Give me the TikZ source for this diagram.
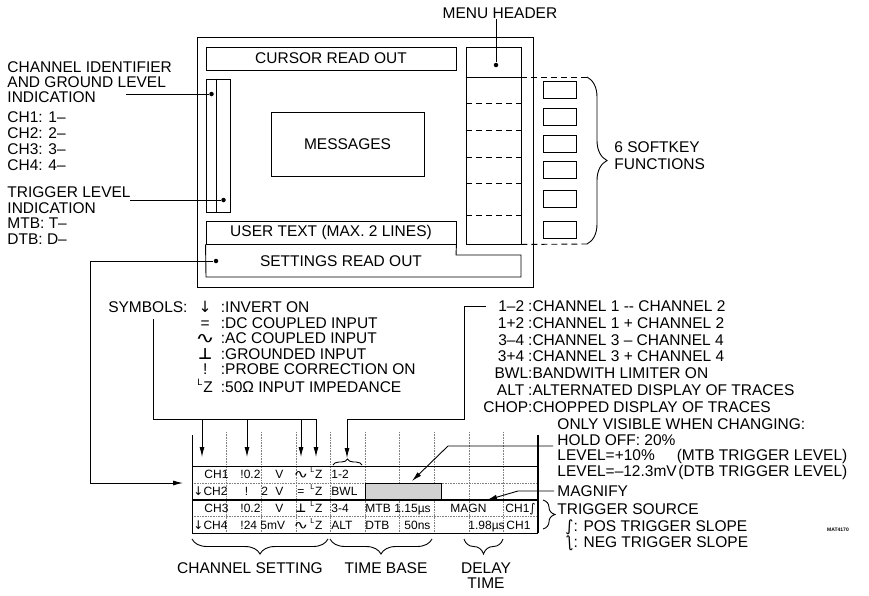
\documentclass[tikz,border=0pt]{standalone}
\usepackage{fontspec}
\setmainfont{Liberation Sans}
\newfontfamily\symfont{DejaVu Sans}
\usepackage{graphicx}
\usetikzlibrary{arrows.meta,positioning,calc,decorations.pathreplacing}

\newcommand{\invsym}{{\symfont ↓}}
\newcommand{\acsym}{\scalebox{1.5}[1]{\symfont ∿}}
\newcommand{\gndsym}{{\symfont\bfseries ⊥}}
\newcommand{\lzsym}{\raisebox{.45em}{\scalebox{.6}{L}}\kern.05em Z}
\newcommand{\possl}{{\symfont ∫}}
\newcommand{\negsl}{\reflectbox{\symfont ∫}}

\begin{document}
\begin{tikzpicture}[
    x=1pt, y=-1pt,
    line width=0.9pt,
    txt/.style={inner sep=0pt, font=\fontsize{15.5}{16}\selectfont},
    box/.style={draw, inner sep=0pt, font=\fontsize{15.5}{16}\selectfont},
    cell/.style={inner sep=0pt, anchor=base west, font=\fontsize{12}{12}\selectfont},
    dot/.style={circle, fill, inner sep=0pt, minimum size=4.5pt},
    arr/.style={-{Latex[length=10pt,width=5pt]}},
    dsh/.style={dash pattern=on 6pt off 4pt},
    grid/.style={densely dotted, line width=0.6pt, gray},
    brc/.style={decorate, decoration={brace, amplitude=#1}}
]
\useasboundingbox (0,0) rectangle (869,595);

% screen layout
\node[box, minimum width=336pt, minimum height=250pt] (screen) at (365,162) {};
\node[box, minimum width=250pt, minimum height=23pt] (cursor) at (331,58.5) {CURSOR READ OUT};
\node[box, minimum width=24pt, minimum height=133pt] (strip) at (218,145.5) {};
\draw (strip.north west) ++(11,0) -- ++(0,133);
\node[box, minimum width=153pt, minimum height=64pt] (msg) at (347.5,144) {MESSAGES};
\node[box, minimum width=55pt, minimum height=197pt] (menu) at (493.5,145.5) {};
\node[box, minimum width=250pt, minimum height=23pt] (user) at (331,232.5) {USER TEXT (MAX. 2 LINES)};
\draw (user.south west) -- (206,277) -- (521,277) -- (521,255) -- (456,255) -- (user.south east);
\node[txt] (setlbl) at (341,261) {SETTINGS READ OUT};

% menu column and softkeys
\coordinate (hdrline) at (466,77);
\coordinate (brtop) at (587,77);
\coordinate (brbot) at (587,244);
\draw (hdrline) -- (hdrline -| menu.east);
\draw[dsh] (hdrline -| menu.east) -- (brtop);
\draw[dsh] (menu.south east) -- (brbot);
\foreach \y in {103,130,157,183,215} \draw[dsh] (466,\y) -- (521,\y);
\foreach \yk [count=\k] in {90,116.5,143.5,170,199,229.5}
  \node[box, minimum width=33pt, minimum height=17pt] (key\k) at (559.5,\yk) {};
\draw[brc=20pt] (brtop) -- (brbot);
\node[txt, align=left, anchor=north west, font=\fontsize{15.5}{16.5}\selectfont] (sklbl) at (614,141.5) {6 SOFTKEY\\FUNCTIONS};

% dots and leaders of the screen
\node[dot] (chdot) at (211.5,94) {};
\node[dot] (trdot) at (223.5,200) {};
\node[dot] (menudot) at (496,65) {};
\node[dot] (setdot) at (216,261) {};

\node[txt] (menuhdr) at (500,13) {MENU HEADER};
\draw (menuhdr.south -| menudot) -- (menudot);

\node[txt, align=left, anchor=north west, font=\fontsize{15.5}{15}\selectfont] (chanid) at (7,61.5) {CHANNEL IDENTIFIER\\AND GROUND LEVEL\\INDICATION};
\node[txt, align=left, anchor=north west, font=\fontsize{15.5}{16}\selectfont] (chlist) at (7,111.5) {CH1: 1--\\CH2: 2--\\CH3: 3--\\CH4: 4--};
\node[txt, align=left, anchor=north west, font=\fontsize{15.5}{15.5}\selectfont] (trigid) at (7,186.5) {TRIGGER LEVEL\\INDICATION\\MTB: T--\\DTB: D--};
\coordinate (chlead) at (126,94);
\coordinate (trlead) at (130,200);
\draw (chlead) -- (chdot);
\draw (trlead) -- (trdot);

\coordinate (setbend) at (90,261);
\coordinate (setin) at (183,483);
\draw[arr] (setdot) -- (setbend) |- (setin);

% symbols
\node[txt, anchor=base east] (symhead) at (188,312.5) {SYMBOLS:};
\node[txt, anchor=base west, font=\fontsize{15.5}{15.5}\selectfont] (symlist) at (195,312.5) {\begin{tabular}[t]{@{}c@{\hspace{6pt}}l@{}}
\invsym & :INVERT ON\\
= & :DC COUPLED INPUT\\
\acsym & :AC COUPLED INPUT\\
\gndsym & :GROUNDED INPUT\\
! & :PROBE CORRECTION ON\\
\lzsym & :50Ω INPUT IMPEDANCE
\end{tabular}};
\coordinate (symtop) at (153,319);
\coordinate (symbus) at (316,419);
\coordinate (s1) at (202,457);
\coordinate (s2) at (247,457);
\coordinate (s3) at (301,457);
\coordinate (s4) at (316,457);
\draw (symtop) |- (symbus);
\draw[arr] (s1 |- symbus) -- (s1);
\draw[arr] (s2 |- symbus) -- (s2);
\draw[arr] (s3 |- symbus) -- (s3);
\draw[arr] (symbus) -- (s4);

% channel modes
\node[txt, anchor=base west, font=\fontsize{15.5}{16.8}\selectfont] (modelist) at (483,311.5) {\begin{tabular}[t]{@{}r@{}l@{}}
1--2\kern4pt & :CHANNEL 1 -{}- CHANNEL 2\\
1+2\kern4pt & :CHANNEL 1 + CHANNEL 2\\
3--4\kern4pt & :CHANNEL 3 -- CHANNEL 4\\
3+4\kern4pt & :CHANNEL 3 + CHANNEL 4\\
BWL & :BANDWITH LIMITER ON\\
ALT\kern4pt & :ALTERNATED DISPLAY OF TRACES\\
CHOP & :CHOPPED DISPLAY OF TRACES
\end{tabular}};
\coordinate (mlstart) at (486,306);
\coordinate (mlcorner) at (464,306);
\coordinate (m1) at (347,458);
\draw[arr] (mlstart) -- (mlcorner) |- (m1 |- symbus) -- (m1);

% hold off, magnify, trigger
\node[txt, anchor=base west, font=\fontsize{15.5}{15.5}\selectfont] (holdlist) at (557,429.5) {\begin{tabular}[t]{@{}l@{}r@{}}
\multicolumn{2}{@{}l@{}}{ONLY VISIBLE WHEN CHANGING:}\\
\multicolumn{2}{@{}l@{}}{HOLD OFF: 20\%}\\
LEVEL=+10\% & (MTB TRIGGER LEVEL)\\
LEVEL=--12.3mV & (DTB TRIGGER LEVEL)
\end{tabular}};
\coordinate (hostart) at (553,446);
\coordinate (hobend) at (448,446);
\coordinate (hotip) at (412,481);

\node[txt, anchor=west] (magn) at (557,491) {MAGNIFY};
\coordinate (mgbend) at (518,491);
\coordinate (mgtip) at (487,500);

\node[txt, anchor=base west, font=\fontsize{15.5}{16}\selectfont] (tsrc) at (557,514.5) {\begin{tabular}[t]{@{}l@{}}
TRIGGER SOURCE\\
\hspace*{8pt}\possl: POS TRIGGER SLOPE\\
\hspace*{8pt}\negsl: NEG TRIGGER SLOPE
\end{tabular}};
\coordinate (tsrctop) at (543,500);
\coordinate (tsrcbot) at (543,529);
\draw[brc=12pt] (tsrctop) -- (tsrcbot);

\node[inner sep=0pt, font=\fontsize{5}{5}\selectfont\bfseries] (matno) at (838,530) {MAT4170};

% settings read out line
\foreach \k in {1,...,9} \draw[grid] ({192+34.6*\k},432) -- ({192+34.6*\k},533);
\draw[grid] (192,483) -- (538,483);
\draw[grid] (192,516) -- (538,516);
\node[draw, line width=0.6pt, fill=gray!35, inner sep=0pt, minimum width=76pt, minimum height=16pt] (holdbar) at (403,491) {};
\draw (192,435) -- (192,533) -- (538,533);
\draw[line width=1.6pt] (538,435) -- (538,533);
\draw (192,466) -- (538,466);
\draw[line width=1.3pt] (192,500) -- (538,500);

\foreach \x/\lbl [count=\i] in {204/CH1, 240/!0.2, 275/V, 293/\acsym, 310/\lzsym, 331/1-2}
  \node[cell] (ra\i) at (\x,478.3) {\lbl};
\foreach \x/\lbl [count=\i] in {193/\invsym CH2, 244.5/!, 261/2, 275/V, 297/=, 310/\lzsym, 331/BWL}
  \node[cell] (rb\i) at (\x,495.3) {\lbl};
\foreach \x/\lbl [count=\i] in {204/CH3, 240/!0.2, 275/V, 295/\gndsym, 310/\lzsym, 331/3-4, 365/MTB, 394/1.15µs, 450/MAGN, 505/CH1\possl}
  \node[cell] (rc\i) at (\x,512.3) {\lbl};
\foreach \x/\lbl [count=\i] in {193/\invsym CH4, 240/!24, 260/5mV, 293/\acsym, 310/\lzsym, 331/ALT, 365/DTB, 404/50ns, 468/1.98µs, 506/CH1}
  \node[cell] (rd\i) at (\x,529.3) {\lbl};

\coordinate (b12l) at (333,465);
\coordinate (b12r) at (362,465);
\draw[brc=6pt] (b12l) -- (b12r);

\draw[arr] (hostart) -- (hobend) -- (hotip);
\draw[arr] ([xshift=-3pt]magn.west) -- (mgbend) -- (mgtip);

% groups below
\coordinate (csr) at (328,539);
\coordinate (csl) at (192,539);
\coordinate (tbr) at (432,539);
\coordinate (tbl) at (330,539);
\coordinate (dtr) at (503,539);
\coordinate (dtl) at (464,539);
\draw[brc=15pt] (csr) -- (csl);
\draw[brc=15pt] (tbr) -- (tbl);
\draw[brc=15pt] (dtr) -- (dtl);
\node[txt] (cslbl) at (250,568) {CHANNEL SETTING};
\node[txt] (tblbl) at (386,568) {TIME BASE};
\node[txt, align=center, font=\fontsize{15.5}{15.5}\selectfont] (dtlbl) at (486,575.5) {DELAY\\TIME};
\end{tikzpicture}
\end{document}
